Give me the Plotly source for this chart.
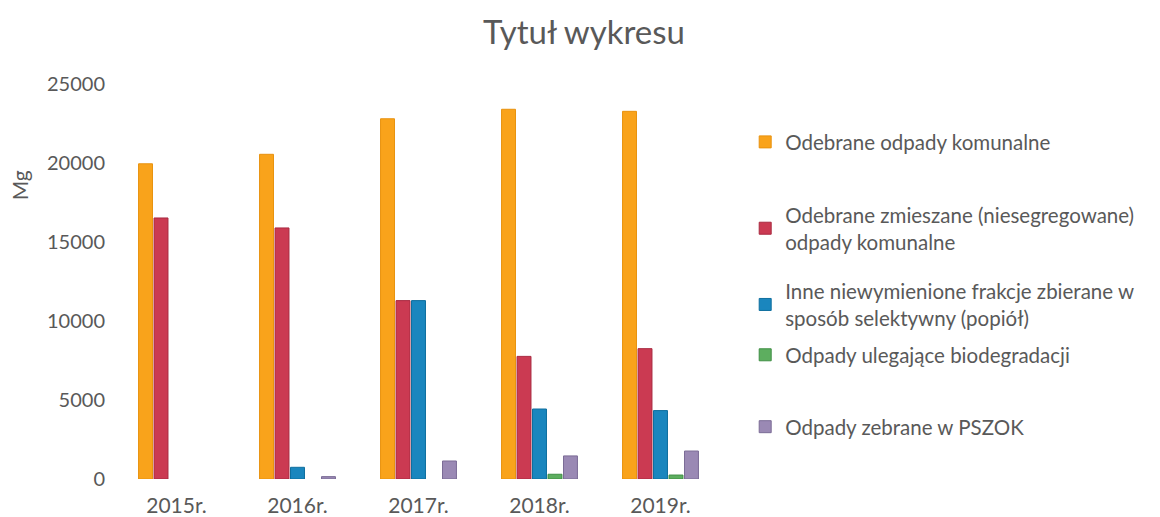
import plotly.graph_objects as go

categories = ["2015r.", "2016r.", "2017r.", "2018r.", "2019r."]
series_names = [
    "Odebrane odpady komunalne",
    "Odebrane zmieszane (niesegregowane)<br>odpady komunalne",
    "Inne niewymienione frakcje zbierane w<br>sposób selektywny (popiół)",
    "Odpady ulegające biodegradacji",
    "Odpady zebrane w PSZOK",
]
odebrane = [19950, 20550, 22800, 23400, 23270]
zmieszane = [16520, 15890, 11290, 7760, 8250]
popiol = [None, 740, 11290, 4430, 4330]
bio = [None, None, None, 300, 250]
pszok = [None, 150, 1140, 1460, 1770]
values = [odebrane, zmieszane, popiol, bio, pszok]

colors = ["#F9A31B", "#CB3A52", "#1A86BE", "#5DAE5F", "#9A89B4"]
lines = ["#E8920F", "#A92A40", "#0E6E9E", "#3F8E44", "#7B6C96"]
legend_ids = ["legend", "legend2", "legend3", "legend4", "legend5"]
legend_y = [0.853, 0.634, 0.441, 0.314, 0.132]

FONT = "Lato, Carlito, 'Open Sans', sans-serif"
GRAY = "#595959"

fig = go.Figure()
for name, vals, c, lc, lid in zip(series_names, values, colors, lines, legend_ids):
    fig.add_trace(go.Bar(
        x=categories, y=vals, name=name,
        marker=dict(color=c, line=dict(color=lc, width=1)),
        legend=lid, showlegend=True,
    ))

layout_legends = {}
for lid, ly in zip(legend_ids, legend_y):
    layout_legends[lid] = dict(
        x=1.04, xanchor="left", y=ly, yanchor="middle",
        font=dict(family=FONT, size=20.5, color=GRAY),
        bgcolor="rgba(0,0,0,0)", itemwidth=30, visible=True,
    )

fig.update_layout(
    width=1152, height=509,
    showlegend=True,
    margin=dict(l=108, r=439, t=76, b=38, autoexpand=False),
    paper_bgcolor="white", plot_bgcolor="white",
    title=dict(text="Tytuł wykresu", x=0.5, xanchor="center", y=0.951, yanchor="middle",
               font=dict(family=FONT, size=33, color=GRAY)),
    barmode="group", bargap=0.36, bargroupgap=0.1,
    xaxis=dict(showgrid=False, showline=False, ticks="", ticklabelstandoff=12,
               tickfont=dict(family=FONT, size=21, color=GRAY)),
    yaxis=dict(range=[0, 25000], tickvals=[0, 5000, 10000, 15000, 20000, 25000],
               showgrid=False, showline=False, zeroline=False, ticks="",
               tickformat="d", ticklabelstandoff=10,
               tickfont=dict(family=FONT, size=20, color=GRAY)),
    annotations=[dict(text="Mg", textangle=-90, xref="paper", yref="paper",
                      x=-0.16, y=0.744, xanchor="center", yanchor="middle", showarrow=False,
                      font=dict(family=FONT, size=21, color=GRAY))],
    **layout_legends,
)

fig.write_html("out.html")
